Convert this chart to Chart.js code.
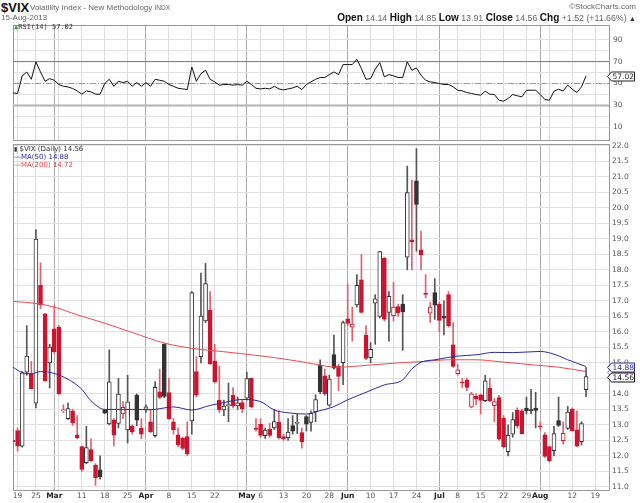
<!DOCTYPE html>
<html>
<head>
<meta charset="utf-8">
<script src="https://cdn.jsdelivr.net/npm/chart.js@4.4.1/dist/chart.umd.min.js"></script>
<style>
  body { margin: 0; width: 640px; height: 503px; background: #fff; position: relative; overflow: hidden; font-family: "DejaVu Sans", sans-serif; }
  canvas { position: absolute; left: 0; z-index: 1; }
  #rsiChart { top: 22px; }
  #mainChart { top: 140px; }
  .t { position: absolute; z-index: 2; white-space: nowrap; color: #666; font-family: "Liberation Sans", Arial, sans-serif; font-size: 8px; }
  .t b { color: #111; font-size: 10px; }
  .leg { position: absolute; z-index: 2; left: 14px; white-space: nowrap; font-family: "DejaVu Sans", sans-serif; font-size: 7px; }
</style>
</head>
<body>
<div class="t" style="left:1px;top:0px;color:#111;font-weight:bold;font-size:13px;">$VIX</div>
<div class="t" style="left:30px;top:3px;">Volatility Index - New Methodology <span style="font-size:6.5px">INDX</span></div>
<div class="t" style="left:1px;top:13px;">15-Aug-2013</div>
<div class="t" style="right:4px;top:2px;">&copy;StockCharts.com</div>
<div class="t" style="right:4px;top:12px;font-size:8.8px;"><b>Open</b> 14.14 <b>High</b> 14.85 <b>Low</b> 13.91 <b>Close</b> 14.56 <b>Chg</b> +1.52 (+11.66%) <span style="color:#333;font-size:7px">&#9650;</span></div>
<div class="leg" style="top:23px;font-family:'DejaVu Sans Mono',monospace;color:#333;"><span style="color:#3a3">&#9650;</span>RSI(14) 57.02</div>
<div class="leg" style="top:145px;color:#333;"><span style="font-size:6px">&#9646;</span> $VIX (Daily) 14.56</div>
<div class="leg" style="top:153px;color:#2b2b9a;">&#8212;MA(50) 14.88</div>
<div class="leg" style="top:161px;color:#e0474c;">&#8212;MA(200) 14.72</div>

<canvas id="rsiChart" width="640" height="120"></canvas>
<canvas id="mainChart" width="640" height="363"></canvas>

<script>
// trading days (plus a few empty future days on the right)
const days = ['2/15','2/19','2/20','2/21','2/22','2/25','2/26','2/27','2/28',
  '3/1','3/4','3/5','3/6','3/7','3/8','3/11','3/12','3/13','3/14','3/15','3/18','3/19','3/20','3/21','3/22','3/25','3/26','3/27','3/28',
  '4/1','4/2','4/3','4/4','4/5','4/8','4/9','4/10','4/11','4/12','4/15','4/16','4/17','4/18','4/19','4/22','4/23','4/24','4/25','4/26','4/29','4/30',
  '5/1','5/2','5/3','5/6','5/7','5/8','5/9','5/10','5/13','5/14','5/15','5/16','5/17','5/20','5/21','5/22','5/23','5/24','5/28','5/29','5/30','5/31',
  '6/3','6/4','6/5','6/6','6/7','6/10','6/11','6/12','6/13','6/14','6/17','6/18','6/19','6/20','6/21','6/24','6/25','6/26','6/27','6/28',
  '7/1','7/2','7/3','7/5','7/8','7/9','7/10','7/11','7/12','7/15','7/16','7/17','7/18','7/19','7/22','7/23','7/24','7/25','7/26','7/29','7/30','7/31',
  '8/1','8/2','8/5','8/6','8/7','8/8','8/9','8/12','8/13','8/14','8/15',
  '8/16','8/19','8/20','8/21','8/22'];

const opens = [12.50,12.82,12.31,14.70,14.65,13.70,17.50,16.58,15.00,
  16.10,16.15,13.45,13.20,13.45,12.66,12.30,11.78,12.20,11.70,11.55,13.48,13.03,13.16,13.05,13.35,12.84,12.95,13.95,12.90,
  13.50,13.10,12.65,14.07,15.60,14.04,13.10,12.68,12.57,12.62,13.13,14.72,15.20,16.35,16.70,15.05,13.80,13.48,13.62,13.95,13.61,13.72,
  13.86,14.50,12.90,13.03,12.65,12.86,12.90,13.08,12.62,12.59,12.98,13.05,12.75,13.27,13.08,13.43,14.94,14.58,13.64,15.27,14.90,15.01,
  16.42,16.15,16.87,17.68,15.90,15.17,16.93,16.50,18.38,16.63,16.52,16.82,16.90,18.41,18.97,20.87,18.65,17.24,16.60,17.27,
  16.90,16.50,17.20,15.58,14.65,14.37,14.45,13.57,13.92,13.97,13.78,14.18,13.62,13.88,13.21,12.14,12.70,13.48,13.45,13.54,13.47,13.54,
  12.95,12.68,12.30,12.17,13.14,12.49,12.89,13.51,12.84,12.46,14.14];
const highs = [12.85,12.90,14.72,16.20,15.05,19.30,18.23,16.60,15.60,
  16.84,16.20,13.65,13.70,13.50,13.30,12.32,12.95,12.55,11.75,12.00,13.50,15.42,13.20,14.50,13.75,14.60,13.00,14.00,13.20,
  13.65,13.50,14.40,14.80,15.62,14.50,13.20,12.90,12.60,13.10,17.30,15.20,17.90,18.21,17.30,15.60,14.90,13.80,14.35,14.20,13.90,13.80,
  14.70,14.52,13.20,13.20,12.90,13.05,13.50,13.45,12.70,13.20,13.30,13.35,12.90,13.30,13.45,13.97,15.10,14.80,14.60,15.90,14.95,16.35,
  17.55,16.80,17.85,18.50,16.20,15.65,17.20,18.60,18.40,17.30,17.60,16.90,17.20,21.35,20.90,21.91,19.25,17.85,16.95,17.72,
  16.95,17.00,17.30,16.30,14.95,14.50,14.50,14.05,14.00,14.00,14.60,14.50,13.85,13.95,13.30,13.00,13.40,13.55,13.50,13.90,14.15,14.05,
  13.10,12.75,12.30,12.95,13.90,13.10,13.60,13.55,13.45,13.10,14.85];
const lows = [12.20,12.15,12.28,14.60,14.15,13.55,16.75,14.40,14.19,
  15.30,13.98,13.40,13.18,12.98,12.55,11.50,11.75,11.82,11.05,11.25,13.36,13.00,12.32,12.90,13.20,12.42,12.70,12.97,12.55,
  13.40,12.75,12.60,13.85,13.88,13.18,12.70,12.30,12.20,12.00,12.70,13.90,15.00,16.30,14.95,14.35,13.40,13.30,13.10,13.55,13.50,13.40,
  13.80,13.55,12.80,12.60,12.56,12.60,12.85,12.55,12.50,12.50,12.70,12.72,12.25,12.80,12.80,13.10,14.00,13.95,13.60,14.80,14.10,14.30,
  16.20,15.70,16.80,16.60,15.10,15.00,15.60,16.45,16.35,15.70,16.35,16.50,15.40,18.00,18.00,18.60,18.00,17.10,16.30,16.40,
  16.00,15.90,16.15,14.85,14.60,14.20,14.10,13.55,13.65,13.35,13.75,13.75,13.10,12.50,12.25,12.00,12.60,12.90,12.70,13.35,13.35,12.90,
  12.85,11.95,11.80,12.00,12.95,12.38,12.85,12.80,12.30,12.35,13.91];
const closes = [12.46,12.31,14.68,15.22,14.17,18.99,16.87,14.42,15.51,
  15.36,14.00,13.48,13.53,13.06,12.59,11.56,12.27,11.85,11.30,11.32,13.38,14.39,12.67,13.99,13.57,13.74,12.77,13.15,12.70,
  13.58,12.78,14.21,13.89,13.92,13.19,12.84,12.36,12.24,12.06,17.27,13.96,16.51,17.56,14.97,14.39,13.48,13.61,13.62,13.61,13.71,13.52,
  14.49,13.59,12.85,12.66,12.83,12.66,13.11,12.59,12.55,12.77,12.80,13.07,12.45,13.02,13.37,13.82,14.07,14.00,14.48,14.83,14.56,16.30,
  16.27,16.25,17.50,16.63,15.14,15.44,17.07,18.59,16.41,17.15,16.80,16.61,16.64,20.49,18.90,20.11,18.48,17.21,16.80,16.86,
  16.37,16.44,16.20,14.89,14.78,14.35,14.21,14.00,13.84,13.79,14.42,13.78,13.75,12.54,12.29,12.66,13.17,12.97,12.72,13.45,13.46,13.47,
  12.94,11.98,11.84,12.72,12.98,12.73,13.41,12.81,12.31,13.04,14.56];

// moving averages at these days
const ma50Days = ['2/15','2/20','2/22','2/26','3/1','3/6','3/11','3/13','3/18','3/26','4/2','4/9','4/15','4/19','4/24','4/30',
  '5/6','5/9','5/14','5/20','5/23','5/29','6/3','6/7','6/13','6/19','6/21','6/25','6/28','7/8','7/12','7/18','7/24','8/1','8/7','8/9','8/13','8/15'];
const ma50 = [14.86,14.69,14.65,14.72,14.66,14.47,14.15,13.78,13.50,13.50,13.49,13.58,13.48,13.63,13.72,13.82,
  13.75,13.48,13.39,13.35,13.46,13.59,13.81,14.05,14.29,14.45,14.80,15.02,15.10,15.22,15.26,15.34,15.33,15.37,15.23,15.10,14.99,14.88];
const ma200Days = ['2/15','2/25','3/1','3/8','3/18','3/26','4/5','4/15','4/24','5/2','5/9','5/20','5/24','5/30',
  '6/7','6/18','6/26','7/3','7/12','7/19','7/30','8/7','8/15'];
const ma200 = [16.98,16.92,16.80,16.55,16.28,15.98,15.64,15.47,15.36,15.26,15.17,15.01,14.90,14.86,
  14.92,15.00,15.05,15.10,15.10,15.04,14.94,14.86,14.72];

const rsi = [41.5,40.9,56.9,60.5,53.9,69.7,60.5,52.1,54.5,
  53.0,49.1,47.5,46.9,45.5,43.3,40.3,43.3,42.4,40.3,40.3,50.0,53.9,47.5,52.1,50.9,52.1,47.5,50.9,47.5,
  50.9,47.5,53.9,53.0,52.1,49.1,47.5,45.7,45.1,44.5,65.1,52.1,59.1,62.1,53.9,51.5,48.5,49.1,49.1,48.5,49.1,48.5,
  52.1,49.1,45.7,45.1,45.7,45.1,47.5,45.1,44.2,45.1,46.0,47.5,44.5,49.1,51.5,53.9,55.5,55.5,58.2,60.6,58.2,67.3,
  67.3,67.3,72.1,63.6,53.9,54.5,63.0,69.1,56.1,58.2,57.0,55.5,55.5,69.7,62.1,64.2,57.6,53.0,51.5,50.9,
  50.0,49.1,49.1,47.0,43.9,43.3,41.8,40.9,40.0,39.4,43.0,40.3,40.0,34.8,33.9,36.4,40.0,38.8,37.9,43.9,43.9,43.9,
  40.0,35.5,34.8,43.0,44.8,43.3,48.5,44.8,41.8,47.0,57.02];
const rsiLevels = [70, 50, 30];

// axis ticks
const xTicks = [['2/19','19'],['2/25','25'],['3/1','Mar'],['3/4',''],['3/11','11'],['3/18','18'],['3/25','25'],
  ['4/1','Apr'],['4/8','8'],['4/15','15'],['4/22','22'],['4/29',''],['5/1','May'],['5/6','6'],['5/13','13'],['5/20','20'],['5/28','28'],
  ['6/3','Jun'],['6/10','10'],['6/17','17'],['6/24','24'],['7/1','Jul'],['7/8','8'],['7/15','15'],['7/22','22'],['7/29','29'],
  ['8/1','Aug'],['8/5',''],['8/12','12'],['8/19','19']];
const yTicks = [11.0,11.5,12.0,12.5,13.0,13.5,14.0,14.5,15.0,15.5,16.0,16.5,17.0,17.5,18.0,18.5,19.0,19.5,20.0,20.5,21.0,21.5,22.0];
const rsiGrid = [10,20,30,40,50,60,70,80,90];
const rsiTickLabels = [10,30,50,70,90];

Chart.defaults.font.family = 'DejaVu Sans';
Chart.defaults.animation = false;

const tickMap = Object.fromEntries(xTicks);
const isMonth = i => /[A-Za-z]/.test(tickMap[days[i]] || '');
const gridCol = c => {
  const t = tickMap[days[c.index]];
  if (t === undefined) return 'rgba(0,0,0,0)';
  return isMonth(c.index) ? '#a8a8a8' : '#dedede';
};

// StockCharts colouring: red if close fell vs previous close, hollow if close above open
const RED = '#cc1430';
const up = closes.map((c, i) => i > 0 && c >= closes[i - 1]);
const bodyLine = up.map(u => u ? '#333' : RED);
const bodyFill = closes.map((c, i) => c < opens[i] ? bodyLine[i] : '#fff');
const wickCol = up.map(u => u ? '#555' : '#e2606c');

const frame = {
  id: 'frame',
  beforeDatasetsDraw(chart) {
    const { ctx, chartArea: a } = chart;
    ctx.save();
    ctx.strokeStyle = '#9a9a9a';
    ctx.lineWidth = 1;
    ctx.strokeRect(Math.round(a.left) + 0.5, Math.round(a.top) + 0.5, Math.round(a.right - a.left), Math.round(a.bottom - a.top));
    ctx.restore();
  }
};

const tags = {
  id: 'tags',
  afterDraw(chart, args, opts) {
    const { ctx, chartArea: a, scales: { y } } = chart;
    ctx.save();
    (opts.items || []).forEach(t => {
      const py = Math.round(y.getPixelForValue(t.value)) + 0.5;
      const x0 = Math.round(a.right) + 0.5;
      ctx.beginPath();
      ctx.moveTo(x0 - 2, py);
      ctx.lineTo(x0 + 2, py - 4.5);
      ctx.lineTo(x0 + 25, py - 4.5);
      ctx.lineTo(x0 + 25, py + 4.5);
      ctx.lineTo(x0 + 2, py + 4.5);
      ctx.closePath();
      ctx.fillStyle = '#fff';
      ctx.fill();
      ctx.strokeStyle = t.color;
      ctx.lineWidth = 1;
      ctx.stroke();
      ctx.fillStyle = t.color;
      ctx.font = '7.5px "DejaVu Sans"';
      ctx.textBaseline = 'middle';
      ctx.fillText(t.value.toFixed(2), x0 + 3, py + 0.5);
    });
    ctx.restore();
  }
};

const xAxis = (showLabels, h) => ({
  type: 'category',
  offset: false,
  grid: { color: gridCol, drawTicks: false, offset: false },
  border: { display: false },
  ticks: {
    display: showLabels,
    autoSkip: false,
    maxRotation: 0,
    padding: 2,
    callback: (v, i) => tickMap[days[i]] || '',
    color: c => isMonth(c.index) ? '#222' : '#555',
    font: c => ({ family: 'DejaVu Sans', size: 7.5, weight: isMonth(c.index) ? 'bold' : 'normal' })
  },
  afterFit: s => { s.height = h; s.paddingLeft = 0; s.paddingRight = 0; }
});

new Chart(document.getElementById('rsiChart'), {
  type: 'line',
  data: {
    labels: days,
    datasets: [
      { data: rsi, borderColor: '#111', borderWidth: 1, pointRadius: 0, order: 0 },
      ...rsiLevels.map(v => ({
        data: [{ x: days[0], y: v }, { x: days[days.length - 1], y: v }],
        borderColor: v === 50 ? '#999' : (v === 70 ? '#777' : '#b4b4b4'),
        borderWidth: v === 30 ? 2 : 1,
        borderDash: v === 50 ? [6, 2, 1, 2] : [],
        pointRadius: 0,
        order: 1
      }))
    ]
  },
  options: {
    responsive: false,
    layout: { padding: { left: 13, top: 3, right: 0, bottom: 2 } },
    plugins: { legend: { display: false }, tooltip: { enabled: false }, tags: { items: [{ value: rsi[rsi.length - 1], color: '#222' }] } },
    scales: {
      x: xAxis(false, 0),
      y: {
        position: 'right',
        min: -1.5,
        max: 103.4,
        afterBuildTicks: s => { s.ticks = rsiGrid.map(v => ({ value: v })); },
        grid: { color: '#e2e2e2', drawTicks: false },
        border: { display: false },
        ticks: { padding: 4, color: '#555', font: { size: 7.5 }, callback: v => rsiTickLabels.includes(v) ? String(v) : '' },
        afterFit: s => { s.width = 31; s.paddingTop = 0; s.paddingBottom = 0; }
      }
    }
  },
  plugins: [frame, tags]
});

new Chart(document.getElementById('mainChart'), {
  type: 'bar',
  data: {
    labels: days,
    datasets: [
      {
        type: 'line', label: 'MA(50)', order: 0,
        data: ma50.map((v, k) => ({ x: ma50Days[k], y: v })),
        borderColor: '#2b2b9a', borderWidth: 1, pointRadius: 0, cubicInterpolationMode: 'monotone'
      },
      {
        type: 'line', label: 'MA(200)', order: 0,
        data: ma200.map((v, k) => ({ x: ma200Days[k], y: v })),
        borderColor: '#ec4a50', borderWidth: 1, pointRadius: 0, cubicInterpolationMode: 'monotone'
      },
      {
        label: 'body', order: 1, grouped: false,
        data: opens.map((o, i) => [o, closes[i]]),
        backgroundColor: bodyFill, borderColor: bodyLine, borderWidth: 1, borderSkipped: false,
        barThickness: 4, minBarLength: 1
      },
      {
        label: 'wick', order: 2, grouped: false,
        data: lows.map((l, i) => [l, highs[i]]),
        backgroundColor: wickCol, borderWidth: 0,
        barThickness: 1
      }
    ]
  },
  options: {
    responsive: false,
    layout: { padding: { left: 13, top: 4, right: 0, bottom: 0 } },
    plugins: {
      legend: { display: false },
      tooltip: { enabled: false },
      tags: { items: [
        { value: ma200[ma200.length - 1], color: '#ec4a50' },
        { value: ma50[ma50.length - 1], color: '#2b2b9a' },
        { value: closes[closes.length - 1], color: '#111' }
      ] }
    },
    scales: {
      x: xAxis(true, 13),
      y: {
        position: 'right',
        min: 10.9,
        max: 22.06,
        afterBuildTicks: s => { s.ticks = yTicks.map(v => ({ value: v })); },
        grid: { color: '#e2e2e2', drawTicks: false },
        border: { display: false },
        ticks: { padding: 3, color: '#555', font: { size: 7.5 }, callback: v => v.toFixed(1) },
        afterFit: s => { s.width = 31; s.paddingTop = 0; s.paddingBottom = 0; }
      }
    }
  },
  plugins: [frame, tags]
});
</script>
</body>
</html>
